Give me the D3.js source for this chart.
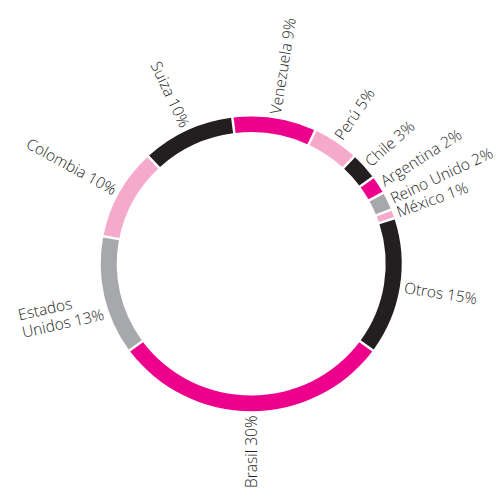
<!DOCTYPE html>
<html>
<head>
<meta charset="utf-8">
<script src="https://cdn.jsdelivr.net/npm/d3@7"></script>
<style>
  html, body { margin: 0; padding: 0; background: #fff; }
  svg { display: block; }
  .lbl { font-family: "Open Sans", "Liberation Sans", sans-serif; font-size: 15.5px; font-weight: 300; fill: #1e1e1e; }
</style>
</head>
<body>
<svg id="chart" width="497" height="497"></svg>
<script>
// Share of the total by country, in ring order (clockwise)
const countries = ["Suiza", "Venezuela", "Perú", "Chile", "Argentina", "Reino Unido", "México", "Otros", "Brasil", "Estados Unidos", "Colombia"];
const shares = [10, 9, 5, 3, 2, 2, 1, 15, 30, 13, 10];
// Label text per country ("\n" marks a line break)
const labelNames = ["Suiza", "Venezuela", "Perú", "Chile", "Argentina", "Reino Unido", "México", "Otros", "Brasil", "Estados\nUnidos", "Colombia"];
const palette = ["#231f20", "#ec008c", "#f5a9cb", "#231f20", "#ec008c", "#a6a8ab", "#f5a9cb", "#231f20", "#ec008c", "#a6a8ab", "#f5a9cb"];

const W = 497, H = 497;
const cx = 251.2, cy = 263.8;
const rOuter = 150.5, rInner = 134.5;
const ky = 0.979;          // slight vertical compression of the ring
const labelGap = 4.5;
const gapPx = 2.5;

const data = countries.map((c, i) => ({ country: c, share: shares[i], label: labelNames[i], color: palette[i] }));

// Rotate the ring so that the "Brasil" slice is centred at the bottom
const total = d3.sum(shares);
const iBr = countries.indexOf("Brasil");
const before = d3.sum(shares.slice(0, iBr));
const startAngle = Math.PI - (before + shares[iBr] / 2) / total * 2 * Math.PI;

const pie = d3.pie()
  .value(d => d.share)
  .sort(null)
  .startAngle(startAngle)
  .endAngle(startAngle + 2 * Math.PI);

const arcs = pie(data);

const padR = Math.sqrt(rInner * rInner + rOuter * rOuter);
const arc = d3.arc()
  .innerRadius(rInner)
  .outerRadius(rOuter)
  .padRadius(padR)
  .padAngle(gapPx / padR);

const svg = d3.select("#chart");

svg.append("g")
  .attr("transform", `translate(${cx},${cy}) scale(1,${ky})`)
  .selectAll("path")
  .data(arcs)
  .join("path")
  .attr("d", arc)
  .attr("fill", d => d.data.color);

// Radial labels
const labels = svg.append("g");
arcs.forEach(a => {
  let mid = (a.startAngle + a.endAngle) / 2;
  mid = ((mid % (2 * Math.PI)) + 2 * Math.PI) % (2 * Math.PI);
  const r = rOuter + labelGap;
  const x = cx + r * Math.sin(mid);
  const y = cy - r * ky * Math.cos(mid);
  const deg = mid * 180 / Math.PI;
  const right = mid < Math.PI - 0.01;
  const rot = right ? deg - 90 : deg + 90;
  const lines = (a.data.label + " " + a.data.share + "%").split("\n");

  const g = labels.append("g").attr("transform", `translate(${x},${y}) rotate(${rot})`);
  const t = g.append("text").attr("class", "lbl");
  const spans = lines.map((ln, k) => t.append("tspan")
    .attr("dy", k === 0 ? "0.35em" : "1.15em")
    .text(ln));
  if (right) {
    spans.forEach(s => s.attr("x", 0));
  } else {
    const maxW = d3.max(spans, s => s.node().getComputedTextLength());
    spans.forEach(s => s.attr("x", -maxW));
  }
});
</script>
</body>
</html>
